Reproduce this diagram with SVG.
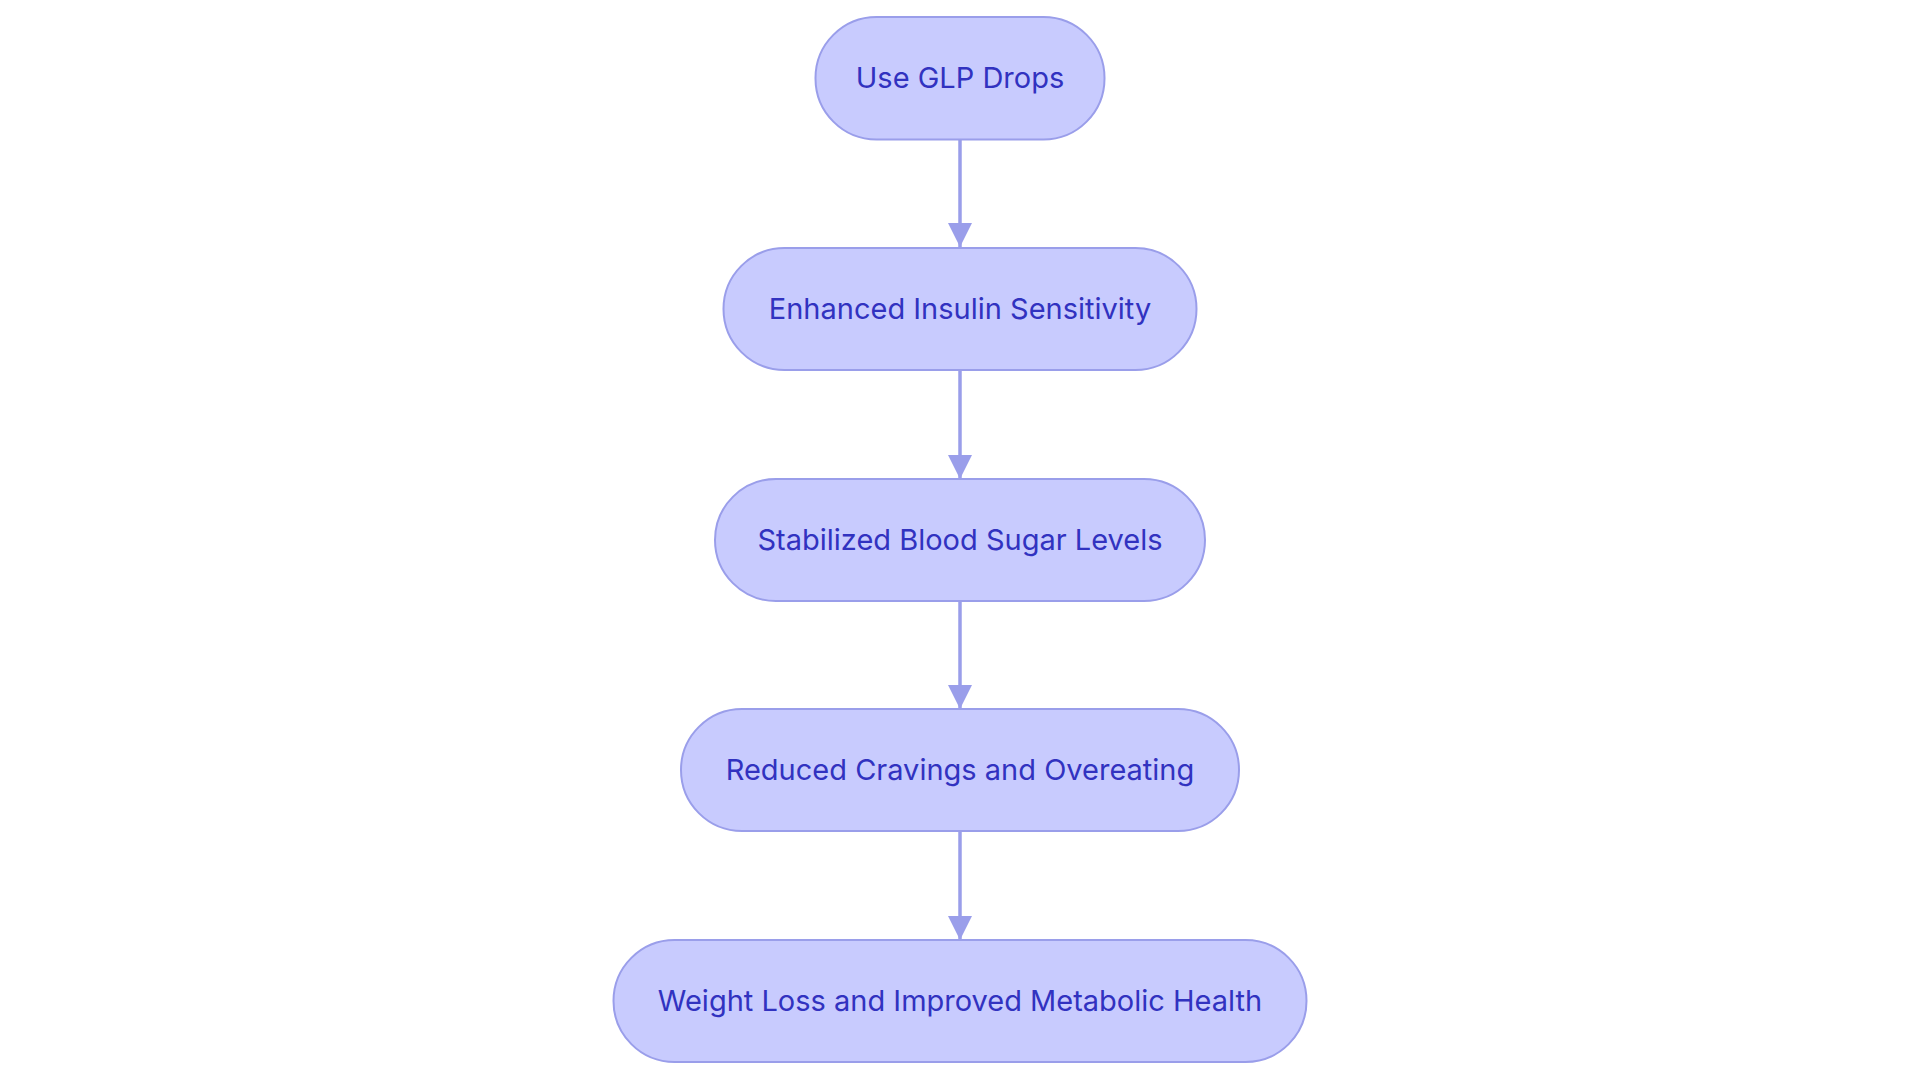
<svg xmlns="http://www.w3.org/2000/svg" width="1920" height="1083" viewBox="0 0 1920 1083">
<style>
.n rect{fill:#c8cbfe;stroke:#9a9eea;stroke-width:2}
.n text{font-family:Inter,"Noto Sans",sans-serif;font-size:29px;fill:#3132c0;text-anchor:middle;dominant-baseline:central}
.c line{stroke:#9a9eea;stroke-width:3.5}
</style>
<defs><marker id="a" viewBox="0 0 10 10" refX="10" refY="5" markerWidth="7" markerHeight="7" markerUnits="strokeWidth" orient="auto"><path d="M0,0L10,5L0,10z" fill="#9a9eea"/></marker></defs>
<rect width="1920" height="1083" fill="#fff"/>
<g class="c">
<line x1="960" y1="140" x2="960" y2="247" marker-end="url(#a)"/>
<line x1="960" y1="370" x2="960" y2="479" marker-end="url(#a)"/>
<line x1="960" y1="601" x2="960" y2="709" marker-end="url(#a)"/>
<line x1="960" y1="831" x2="960" y2="940" marker-end="url(#a)"/>
</g>
<g id="n1" class="n"><rect x="815.5" y="17" width="289" height="122.5" rx="61"/><text x="960" y="77">Use GLP Drops</text></g>
<g id="n2" class="n"><rect x="723.5" y="248" width="473" height="122" rx="61"/><text x="960" y="308">Enhanced Insulin Sensitivity</text></g>
<g id="n3" class="n"><rect x="715" y="479" width="490" height="122" rx="61"/><text x="960" y="539">Stabilized Blood Sugar Levels</text></g>
<g id="n4" class="n"><rect x="681" y="709" width="558" height="122" rx="61"/><text x="960" y="769">Reduced Cravings and Overeating</text></g>
<g id="n5" class="n"><rect x="613.5" y="940" width="693" height="122" rx="61"/><text x="960" y="1000">Weight Loss and Improved Metabolic Health</text></g>
</svg>
